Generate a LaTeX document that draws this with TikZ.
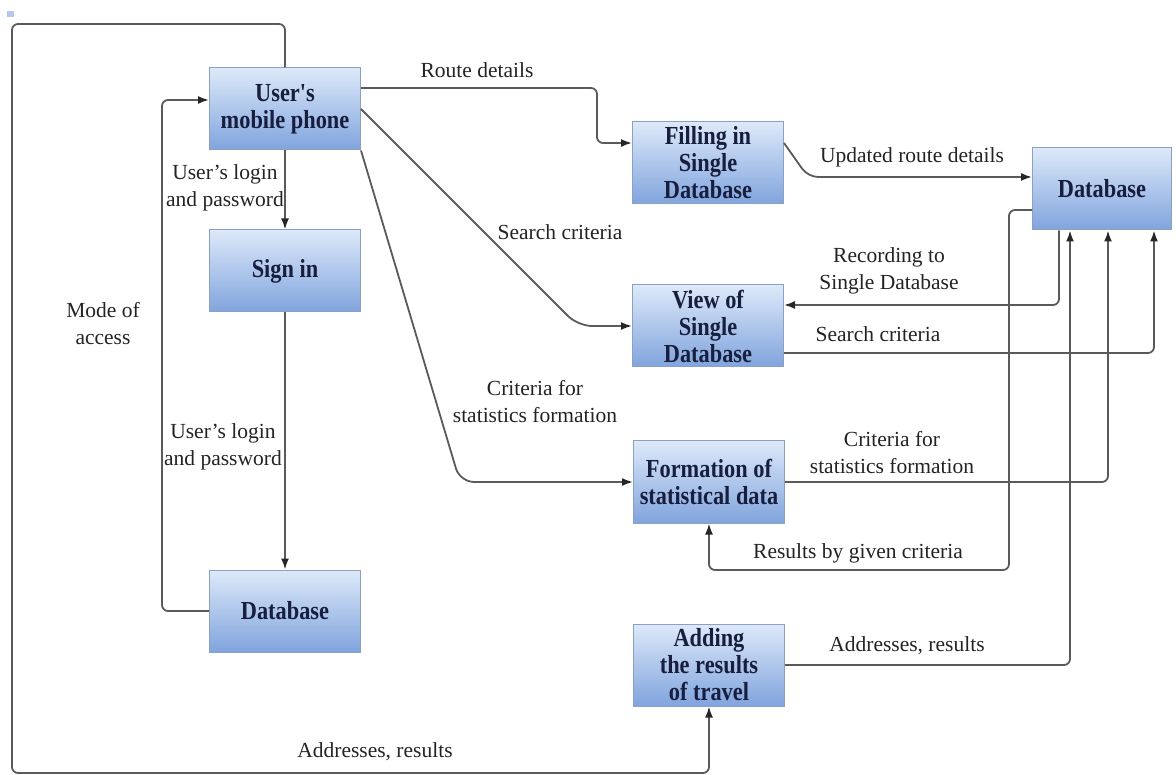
\documentclass[tikz,border=0pt]{standalone}
\usepackage{fontspec}
\setmainfont{Liberation Serif}
\newfontfamily\boxfont{Liberation Serif}[FakeStretch=0.86]
\usetikzlibrary{arrows.meta}
\definecolor{boxtop}{RGB}{221,233,249}
\definecolor{boxbottom}{RGB}{128,164,221}
\definecolor{boxline}{RGB}{140,160,195}
\definecolor{boxtext}{RGB}{24,30,62}
\definecolor{flowline}{RGB}{90,90,90}
\definecolor{labeltext}{RGB}{35,35,35}

\begin{document}
\begin{tikzpicture}[x = 1pt, y = -1pt]
	% Fix the size of the picture
	\useasboundingbox (0, 0) rectangle (1176, 775);

	% Custom styles for the boxes, the flows and their labels
	\tikzset{process/.style = {draw = boxline, line width = 1pt, top color = boxtop, bottom color = boxbottom, minimum width = 151pt, minimum height = 82pt, inner sep = 2pt, align = center, text = boxtext, font = \boxfont\bfseries\fontsize{26}{27}\selectfont}}
	\tikzset{flow/.style = {draw = flowline, line width = 1.8pt, rounded corners = 6pt, -{Latex[length = 11pt, width = 8pt, color = black!85]}}}
	\tikzset{flowtext/.style = {align = center, text = labeltext, inner sep = 1pt, font = \fontsize{21.5}{27}\selectfont}}

	% Small mark in the corner
	\fill[boxbottom!60] (7, 11) rectangle (14, 17);

	% Draw the boxes
	\node[process] (phone) at (285, 109) {User's\\mobile phone};
	\node[process] (signin) at (285, 271) {Sign in};
	\node[process] (dbleft) at (285, 611) {Database};
	\node[process] (fill) at (708, 163) {Filling in\\Single\\Database};
	\node[process] (view) at (708, 326) {View of\\Single\\Database};
	\node[process] (stats) at (709, 482) {Formation of\\statistical data};
	\node[process] (travel) at (709, 665) {Adding\\the results\\of travel};
	\node[process, minimum width = 139pt] (dbright) at (1102, 189) {Database};

	% Corners of the outer loop
	\coordinate (topleft) at (12, 24);
	\coordinate (bottomleft) at (12, 773);

	% Flows on the left
	\draw[flow] (phone.north) |- (topleft) -- (bottomleft) -| (travel.south);
	\draw[flow] (phone.south) -- (signin.north);
	\draw[flow] (signin.south) -- (dbleft.north);
	\draw[flow] (dbleft.west) -| (162, 100) -- ([yshift = 9pt]phone.west);

	% Flows from the phone to the middle column
	\draw[flow] ([yshift = 21pt]phone.east) -| (597, 143) -- ([yshift = 20pt]fill.west);
	\draw[flow, rounded corners = 14pt] (phone.east) -- (578, 326) -- (view.west);
	\draw[flow, rounded corners = 14pt] (phone.south east) -- (460, 482) -- (stats.west);

	% Flows between the middle column and the database
	\draw[flow, rounded corners = 10pt] ([yshift = 20pt]fill.east) -- (808, 177) -- ([yshift = 12pt]dbright.west);
	\draw[flow] ([xshift = -43pt]dbright.south) |- ([yshift = 21pt]view.east);
	\draw[flow] ([yshift = -27pt]view.east) -| ([xshift = 52pt]dbright.south);
	\draw[flow] (stats.east) -| ([xshift = 6pt]dbright.south);
	\draw[flow] ([yshift = -21pt]dbright.west) -| (1009, 570) -| (stats.south);
	\draw[flow] (travel.east) -| ([xshift = -32pt]dbright.south);

	% Draw the flow labels
	\node[flowtext] (lroute) at (477, 70) {Route details};
	\node[flowtext] (llogin) at (225, 188) {User's login\\and password};
	\node[flowtext] (llogindb) at (223, 447) {User's login\\and password};
	\node[flowtext] (lmode) at (103, 324) {Mode of\\access};
	\node[flowtext] (lsearch) at (560, 232) {Search criteria};
	\node[flowtext] (lcriteria) at (535, 402) {Criteria for\\statistics formation};
	\node[flowtext] (lupdated) at (912, 157) {Updated route details};
	\node[flowtext] (lrecord) at (889, 271) {Recording to\\Single Database};
	\node[flowtext] (lsearchdb) at (878, 334) {Search criteria};
	\node[flowtext] (lcriteriadb) at (892, 453) {Criteria for\\statistics formation};
	\node[flowtext] (lresults) at (858, 553) {Results by given criteria};
	\node[flowtext] (laddrdb) at (907, 646) {Addresses, results};
	\node[flowtext] (laddr) at (375, 752) {Addresses, results};
\end{tikzpicture}
\end{document}
